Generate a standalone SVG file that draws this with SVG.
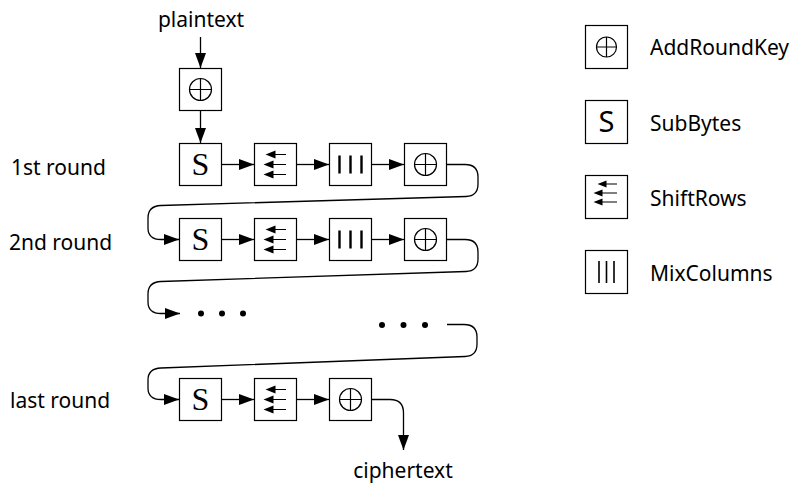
<svg xmlns="http://www.w3.org/2000/svg" xmlns:xlink="http://www.w3.org/1999/xlink" width="809" height="490" viewBox="0 0 809 490">
  <style>
    .box { fill: #ffffff; stroke: #000000; stroke-width: 1.2; }
    .wire { fill: none; stroke: #000000; stroke-width: 1.3; }
    .glyph { fill: none; stroke: #000000; stroke-width: 1.2; }
    .bar { stroke: #000000; stroke-width: 2.4; }
    .lbar { stroke: #000000; stroke-width: 1.6; }
    .label { font-family: "Noto Sans", "Open Sans", "DejaVu Sans", sans-serif; font-size: 21px; fill: #000000; }
    .sbox { font-family: "Liberation Serif", "DejaVu Serif", serif; font-size: 32px; fill: #000000; text-anchor: middle; }
    .slegend { font-family: "Noto Sans", "DejaVu Sans", sans-serif; font-size: 29px; fill: #000000; text-anchor: middle; }
    .dot { fill: #000000; }
  </style>
  <defs>
    <marker id="arrow" markerUnits="userSpaceOnUse" markerWidth="16" markerHeight="12" refX="15" refY="6" orient="auto">
      <path d="M0,0.5 L15,6 L0,11.5 Z" fill="#000000"/>
    </marker>
    <!-- XOR symbol for AddRoundKey -->
    <symbol id="xor" overflow="visible">
      <circle class="glyph" cx="0" cy="0" r="11"/>
      <path class="glyph" d="M-11,0 H11 M0,-11 V11"/>
    </symbol>
    <!-- three left arrows for ShiftRows -->
    <symbol id="shift" overflow="visible">
      <path class="glyph" d="M10.5,-10 H-2 M10.5,0 H-5 M10.5,10 H-5"/>
      <path d="M-10,-10 L0,-14 L0,-6 Z M-12,0 L-2,-4 L-2,4 Z M-12,10 L-2,6 L-2,14 Z" fill="#000000"/>
    </symbol>
    <!-- three columns for MixColumns -->
    <symbol id="mix" overflow="visible">
      <path class="bar" d="M-11,-9 V9 M0,-9 V9 M11,-9 V9"/>
    </symbol>
  </defs>

  <!-- input / output labels -->
  <text class="label" x="201" y="27" text-anchor="middle">plaintext</text>
  <text class="label" x="403" y="478" text-anchor="middle">ciphertext</text>

  <!-- round labels -->
  <text class="label" x="11" y="175">1st round</text>
  <text class="label" x="9" y="250">2nd round</text>
  <text class="label" x="10" y="408">last round</text>

  <!-- initial key addition -->
  <g id="add0" transform="translate(200.5,89.5)">
    <rect class="box" x="-21" y="-21" width="42" height="42"/>
    <use xlink:href="#xor"/>
  </g>

  <!-- round 1 -->
  <g id="r1-sub" transform="translate(200.5,164.5)">
    <rect class="box" x="-21" y="-21" width="42" height="42"/>
    <text class="sbox" x="0" y="10.5">S</text>
  </g>
  <g id="r1-shift" transform="translate(275.5,164.5)">
    <rect class="box" x="-21" y="-21" width="42" height="42"/>
    <use xlink:href="#shift"/>
  </g>
  <g id="r1-mix" transform="translate(350.5,164.5)">
    <rect class="box" x="-21" y="-21" width="42" height="42"/>
    <use xlink:href="#mix"/>
  </g>
  <g id="r1-add" transform="translate(425.5,164.5)">
    <rect class="box" x="-21" y="-21" width="42" height="42"/>
    <use xlink:href="#xor"/>
  </g>

  <!-- round 2 -->
  <g id="r2-sub" transform="translate(200.5,239.5)">
    <rect class="box" x="-21" y="-21" width="42" height="42"/>
    <text class="sbox" x="0" y="10.5">S</text>
  </g>
  <g id="r2-shift" transform="translate(275.5,239.5)">
    <rect class="box" x="-21" y="-21" width="42" height="42"/>
    <use xlink:href="#shift"/>
  </g>
  <g id="r2-mix" transform="translate(350.5,239.5)">
    <rect class="box" x="-21" y="-21" width="42" height="42"/>
    <use xlink:href="#mix"/>
  </g>
  <g id="r2-add" transform="translate(425.5,239.5)">
    <rect class="box" x="-21" y="-21" width="42" height="42"/>
    <use xlink:href="#xor"/>
  </g>

  <!-- elided rounds -->
  <g id="ellipsis-left">
    <circle class="dot" cx="201" cy="313.5" r="3"/>
    <circle class="dot" cx="222" cy="313.5" r="3"/>
    <circle class="dot" cx="243" cy="313.5" r="3"/>
  </g>
  <g id="ellipsis-right">
    <circle class="dot" cx="382" cy="325" r="3"/>
    <circle class="dot" cx="403.5" cy="325" r="3"/>
    <circle class="dot" cx="425" cy="325" r="3"/>
  </g>

  <!-- last round (no MixColumns) -->
  <g id="rl-sub" transform="translate(200.5,399.5)">
    <rect class="box" x="-21" y="-21" width="42" height="42"/>
    <text class="sbox" x="0" y="10.5">S</text>
  </g>
  <g id="rl-shift" transform="translate(275.5,399.5)">
    <rect class="box" x="-21" y="-21" width="42" height="42"/>
    <use xlink:href="#shift"/>
  </g>
  <g id="rl-add" transform="translate(350.5,399.5)">
    <rect class="box" x="-21" y="-21" width="42" height="42"/>
    <use xlink:href="#xor"/>
  </g>

  <!-- connectors -->
  <g id="connectors">
    <path class="wire" marker-end="url(#arrow)" d="M200.5,37 V68"/>
    <path class="wire" marker-end="url(#arrow)" d="M200.5,111 V143"/>

    <path class="wire" marker-end="url(#arrow)" d="M222,164.5 H254"/>
    <path class="wire" marker-end="url(#arrow)" d="M297,164.5 H329"/>
    <path class="wire" marker-end="url(#arrow)" d="M372,164.5 H404"/>
    <path class="wire" marker-end="url(#arrow)" d="M447,164.5 H465 Q478,164.5 478,177 V184 Q478,196 466,196.5 L161,205.5 Q148,206 148,218 V228 Q148,239.5 161,239.5 H179"/>

    <path class="wire" marker-end="url(#arrow)" d="M222,239.5 H254"/>
    <path class="wire" marker-end="url(#arrow)" d="M297,239.5 H329"/>
    <path class="wire" marker-end="url(#arrow)" d="M372,239.5 H404"/>
    <path class="wire" marker-end="url(#arrow)" d="M447,239.5 H465 Q478,239.5 478,252 V259 Q478,271 466,271.5 L161,281.5 Q148,282 148,294 V302 Q148,313.5 161,313.5 H180"/>

    <path class="wire" marker-end="url(#arrow)" d="M447,324.5 H464 Q477,324.5 477,337 V344 Q477,356 465,356.5 L161,368 Q148,368.5 148,380 V388 Q148,399.5 161,399.5 H179"/>

    <path class="wire" marker-end="url(#arrow)" d="M222,399.5 H254"/>
    <path class="wire" marker-end="url(#arrow)" d="M297,399.5 H329"/>
    <path class="wire" marker-end="url(#arrow)" d="M372,399.5 H390 Q403.5,399.5 403.5,413 V450"/>
  </g>

  <!-- legend -->
  <g id="legend-add" transform="translate(606.5,47)">
    <rect class="box" x="-21" y="-21.5" width="42" height="43"/>
    <circle class="glyph" cx="0" cy="0" r="10"/>
    <path class="glyph" d="M-10,0 H10 M0,-10 V10"/>
    <text class="label" x="43.5" y="8">AddRoundKey</text>
  </g>
  <g id="legend-sub" transform="translate(606.5,122)">
    <rect class="box" x="-21" y="-21.5" width="42" height="43"/>
    <text class="slegend" x="0" y="10">S</text>
    <text class="label" x="43.5" y="8.5">SubBytes</text>
  </g>
  <g id="legend-shift" transform="translate(606.5,197)">
    <rect class="box" x="-21" y="-21.5" width="42" height="43"/>
    <path class="glyph" d="M10.5,-13 H-1 M10.5,-4 H-5 M10.5,5 H-5"/>
    <path d="M-9,-13 L0,-16.5 L0,-9.5 Z M-13,-4 L-4,-7.5 L-4,-0.5 Z M-13,5 L-4,1.5 L-4,8.5 Z" fill="#000000"/>
    <text class="label" x="43.5" y="9">ShiftRows</text>
  </g>
  <g id="legend-mix" transform="translate(606.5,272)">
    <rect class="box" x="-21" y="-21.5" width="42" height="43"/>
    <path class="lbar" d="M-7.5,-11 V11 M0,-11 V11 M7.5,-11 V11"/>
    <text class="label" x="43.5" y="8.5">MixColumns</text>
  </g>
</svg>
